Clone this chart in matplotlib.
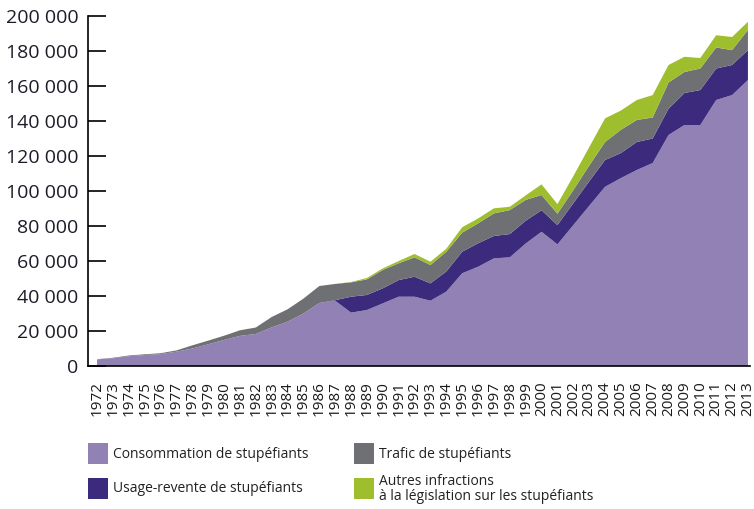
import matplotlib
matplotlib.use("Agg")
import matplotlib.pyplot as plt
from matplotlib.patches import Rectangle
from matplotlib.ticker import FuncFormatter
from matplotlib import font_manager

years = list(range(1972, 2014))

consommation = [3800, 4400, 5600, 6300, 6800, 8200, 10000, 12400, 14900, 17200,
                18300, 22100, 25300, 30000, 36000, 37300, 30500, 32000, 35800, 39600,
                39600, 37300, 42500, 53000, 56700, 61500, 62100, 70000, 76700, 69500,
                80500, 91500, 102400, 107400, 112000, 116000, 132000, 137700, 137700, 152000,
                154800, 163400]
usage_revente = [0, 0, 0, 0, 0, 0, 0, 0, 0, 0,
                 0, 0, 0, 0, 0, 300, 9100, 8600, 8600, 9500,
                 11400, 9900, 11500, 12300, 13400, 12800, 13300, 13000, 12300, 11000,
                 12500, 14000, 15300, 14300, 16000, 14000, 15000, 18300, 20000, 18000,
                 17200, 17100]
trafic = [100, 300, 400, 400, 500, 700, 1800, 2100, 2400, 3200,
          3700, 5900, 7100, 8500, 9700, 9300, 8200, 8900, 10500, 9600,
          11100, 10500, 11300, 10900, 11400, 12900, 13700, 11900, 8700, 6500,
          7500, 9000, 10300, 13300, 12600, 12000, 15000, 12000, 12300, 12000,
          8500, 11500]
autres = [0, 0, 0, 0, 0, 0, 0, 0, 0, 0,
          0, 0, 0, 0, 0, 0, 200, 800, 900, 1300,
          1900, 1900, 1700, 3100, 2800, 2900, 1900, 2600, 6100, 5500,
          8000, 10500, 13500, 11000, 11400, 12800, 10000, 8700, 6000, 7000,
          7500, 4700]

labels = ["Consommation de stupéfiants", "Usage-revente de stupéfiants",
          "Trafic de stupéfiants", "Autres infractions\nà la législation sur les stupéfiants"]
colors = ["#9281b4", "#3c2a7c", "#6e7073", "#9fbe2e"]

names = {f.name for f in font_manager.fontManager.ttflist}
narrow = "Liberation Sans Narrow" in names
print("narrow available:", narrow)

plt.rcParams["font.family"] = ["Open Sans", "DejaVu Sans"]

W, H = 754, 509
fig = plt.figure(figsize=(W / 100, H / 100), dpi=100)
ax = fig.add_axes([88 / W, 1 - 366 / H, 662 / W, 350 / H])

ax.stackplot(years, consommation, usage_revente, trafic, autres,
             colors=colors, linewidth=0)

ax.set_xlim(1971.43, 2013.13)
ax.set_ylim(0, 200000)
ax.set_xticks(years)
ax.set_xticklabels([str(y) for y in years], rotation=90, fontsize=11, color="#1a1a1a")
ax.set_yticks(range(0, 200001, 20000))
ax.yaxis.set_major_formatter(FuncFormatter(lambda v, p: f"{int(v):,}".replace(",", " ")))
ax.tick_params(axis="x", length=0, pad=11)
ax.tick_params(axis="y", direction="in", length=13, width=1.2, pad=7, labelsize=14,
               labelcolor="#1c1c28")
for t in ax.get_yticklabels():
    t.set_fontweight("medium")

for side in ["top", "right"]:
    ax.spines[side].set_visible(False)
for side in ["left", "bottom"]:
    ax.spines[side].set_linewidth(1.2)

# legend drawn by hand, two columns
if narrow:
    leg_font = dict(family=["Liberation Sans Narrow", "DejaVu Sans"], fontsize=12)
else:
    leg_font = dict(fontsize=10)
boxes = [(88, 443), (88, 478), (354, 443), (354, 478)]
for (bx, by), lab, col in zip(boxes, labels, colors):
    fig.add_artist(Rectangle((bx / W, 1 - (by + 21) / H), 20 / W, 21 / H,
                             transform=fig.transFigure, facecolor=col, edgecolor="none"))
    fig.text((bx + 25) / W, 1 - (by + 11) / H, lab, va="center", ha="left",
             color="#222222", linespacing=1.0, **leg_font)

plt.savefig("out.png", dpi=100)
